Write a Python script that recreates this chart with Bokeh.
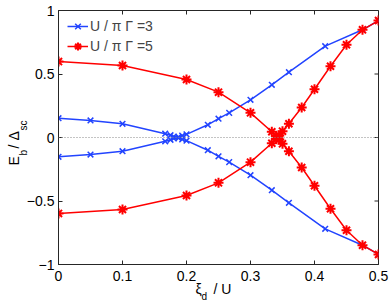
import numpy as np
from bokeh.plotting import figure
from bokeh.models import Range1d, FixedTicker, Span, Title, Legend, LegendItem
from bokeh.embed import file_html
from bokeh.resources import INLINE

# ---- data ----
blue_xi = [0, 0.05, 0.1, 0.1667, 0.175, 0.18, 0.1875, 0.1933, 0.2, 0.2333, 0.25, 0.2667,
           0.3, 0.3333, 0.36, 0.4167, 0.475, 0.5]
blue_eb = [0.152, 0.134, 0.108, 0.03, 0.018, 0.008, -0.005, -0.015, -0.025, -0.1, -0.148, -0.194,
           -0.297, -0.415, -0.514, -0.719, -0.848, -0.921]
red_xi = [0, 0.1, 0.2, 0.25, 0.3, 0.3333, 0.34, 0.345, 0.35, 0.36, 0.38, 0.4, 0.425, 0.45, 0.475, 0.5]
red_eb = [0.598, 0.567, 0.457, 0.357, 0.194, 0.045, 0.012, -0.015, -0.05, -0.108, -0.236, -0.38,
          -0.561, -0.73, -0.848, -0.921]
x_ticks = [0, 0.1, 0.2, 0.3, 0.4, 0.5]
y_ticks = [-1, -0.5, 0, 0.5, 1]
y_tick_labels = ["\u22121", "\u22120.5", "0", "0.5", "1"]
legend_labels = ["U / \u03c0 \u0393 =3", "U / \u03c0 \u0393 =5"]
NB = "\u00a0"
xlabel_main = "\u03be" + NB * 3 + "/" + NB + "U"
xlabel_sub = "d"
ylabel_main = "E" + NB * 2 + "/" + NB + "\u0394"
ylabel_sub = "b" + NB * 7 + "sc"

BLUE = "#2244ff"
RED = "#ff0000"
AX = "#262626"
FONT = "Liberation Sans"

p = figure(width=390, height=301, output_backend="svg", toolbar_location=None,
           x_range=Range1d(0, 0.5), y_range=Range1d(-1, 1),
           min_border_left=58, min_border_right=12, min_border_top=10, min_border_bottom=37)
p.background_fill_color = "white"
p.border_fill_color = "white"
p.outline_line_color = AX
p.xgrid.visible = False
p.ygrid.visible = False

for ax, ticks in ((p.xaxis[0], x_ticks), (p.yaxis[0], y_ticks)):
    ax.ticker = FixedTicker(ticks=ticks)
    ax.major_tick_in = 4
    ax.major_tick_out = 0
    ax.minor_tick_line_color = None
    ax.axis_line_color = AX
    ax.major_tick_line_color = AX
    ax.major_label_text_font = FONT
    ax.major_label_text_font_size = "14px"
    ax.major_label_text_color = "#000000"
    ax.major_label_standoff = 4
p.xaxis[0].major_label_standoff = 6
p.yaxis[0].major_label_overrides = {t: l for t, l in zip(y_ticks, y_tick_labels)}

# inward ticks on the top and right edges of the box
p.scatter(x_ticks, [p.y_range.end] * len(x_ticks), marker="dash", angle=np.pi / 2,
          size=8, line_color=AX, line_width=1)
p.scatter([p.x_range.end] * len(y_ticks), y_ticks, marker="dash",
          size=8, line_color=AX, line_width=1)

p.add_layout(Span(location=0, dimension="width", line_color="#888888", line_dash="1 2", line_width=1))

bx = np.array(blue_xi); by = np.array(blue_eb)
rx = np.array(red_xi); ry = np.array(red_eb)

items = []
for sgn in (1, -1):
    l = p.line(bx, sgn * by, line_color=BLUE, line_width=1.5)
    m = p.scatter(bx, sgn * by, marker="x", size=8, line_color=BLUE, line_width=1.5)
    if sgn == 1:
        items.append(LegendItem(label=legend_labels[0], renderers=[l, m]))
for sgn in (1, -1):
    l = p.line(rx, sgn * ry, line_color=RED, line_width=1.5)
    m = p.scatter(rx, sgn * ry, marker="asterisk", size=10, line_color=RED, line_width=2)
    if sgn == 1:
        items.append(LegendItem(label=legend_labels[1], renderers=[l, m]))

leg = Legend(items=items, location=(3, 202), padding=6, spacing=0, margin=0,
             glyph_width=21, glyph_height=20, label_height=20, label_standoff=2,
             label_text_font=FONT, label_text_font_size="14px",
             border_line_alpha=0, background_fill_alpha=0)
p.add_layout(leg, "center")

# axis labels with subscripts, as side-panel titles
def title(text, size, valign, offset, standoff):
    return Title(text=text, text_font=FONT, text_font_size=size, text_font_style="normal",
                 text_color="black", align="left", vertical_align=valign,
                 offset=offset, standoff=standoff)

p.add_layout(title(xlabel_main, "14px", "bottom", 137, -7.8), "below")
p.add_layout(title(xlabel_sub, "10px", "bottom", 143, -7.8), "below")

p.add_layout(title(ylabel_sub, "10px", "bottom", 109, -11), "left")
p.add_layout(title(ylabel_main, "14px", "bottom", 99, 0), "left")

open("out.html", "w").write(file_html(p, INLINE))
